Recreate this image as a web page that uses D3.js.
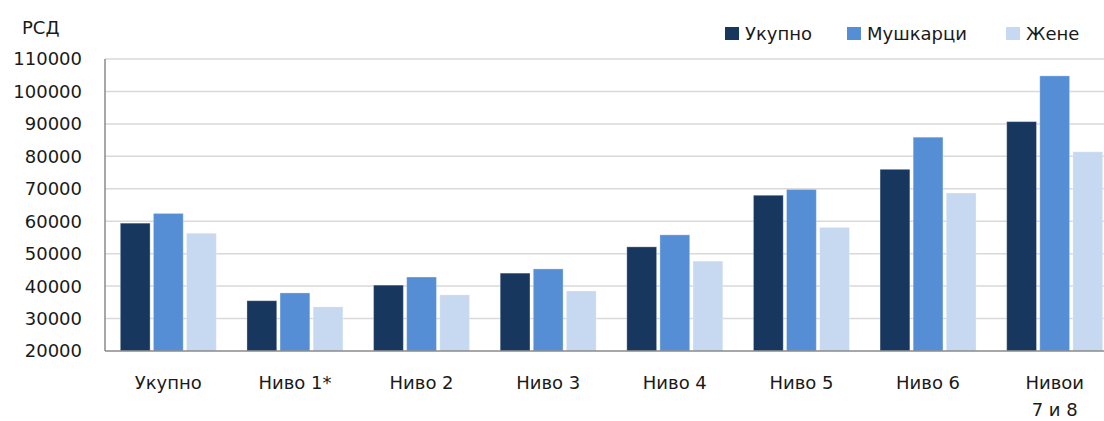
<!DOCTYPE html>
<html>
<head>
<meta charset="utf-8">
<script src="https://cdn.jsdelivr.net/npm/d3@7"></script>
<style>
  body { margin: 0; background: #fff; }
  text { font-family: "DejaVu Sans", sans-serif; fill: #1a1a1a; }
</style>
</head>
<body>
<div class="chart"></div>
<script>
var categories = ["Укупно", "Ниво 1*", "Ниво 2", "Ниво 3", "Ниво 4", "Ниво 5", "Ниво 6", "Нивои|7 и 8"];
var series = ["Укупно", "Мушкарци", "Жене"];
var ukupno   = [59400, 35500, 40300, 44000, 52100, 68000, 76000, 90700];
var muskarci = [62400, 37900, 42800, 45300, 55800, 69800, 85900, 104800];
var zene     = [56300, 33600, 37300, 38500, 47700, 58100, 68700, 81400];
var yTicks = [20000, 30000, 40000, 50000, 60000, 70000, 80000, 90000, 100000, 110000];

var colors = ["#17375e", "#558ed5", "#c6d9f1"];
var values = [ukupno, muskarci, zene];

var width = 1104, height = 421;
var plotLeft = 105, plotRight = 1118, plotTop = 59, plotBottom = 351;

var svg = d3.select(".chart").append("svg")
    .attr("width", width)
    .attr("height", height);

var y = d3.scaleLinear().domain([20000, 110000]).range([plotBottom, plotTop]);

var x0 = d3.scaleBand()
    .domain(categories)
    .range([plotLeft, plotRight])
    .paddingInner(0.242)
    .paddingOuter(0.121);

var x1 = d3.scaleBand()
    .domain(series)
    .range([0, x0.bandwidth()])
    .paddingInner(0.1);

// grid
svg.append("g")
  .selectAll("line")
  .data(yTicks.slice(1))
  .enter().append("line")
    .attr("x1", plotLeft).attr("x2", width)
    .attr("y1", function(d) { return y(d); })
    .attr("y2", function(d) { return y(d); })
    .attr("stroke", "#d9d9d9")
    .attr("stroke-width", 1.5);

// y tick labels
svg.append("g")
  .selectAll("text")
  .data(yTicks)
  .enter().append("text")
    .attr("x", 82)
    .attr("y", function(d) { return y(d); })
    .attr("dy", "0.36em")
    .attr("text-anchor", "end")
    .attr("font-size", 18)
    .text(function(d) { return d; });

svg.append("text")
    .attr("x", 22).attr("y", 28).attr("dy", "0.36em")
    .attr("font-size", 18)
    .text("РСД");

// bars
var groups = svg.append("g")
  .selectAll("g")
  .data(categories)
  .enter().append("g")
    .attr("transform", function(d) { return "translate(" + x0(d) + ",0)"; });

groups.selectAll("rect")
  .data(function(d, i) {
    return series.map(function(s, j) { return { s: s, v: values[j][i], c: colors[j] }; });
  })
  .enter().append("rect")
    .attr("x", function(d) { return x1(d.s); })
    .attr("y", function(d) { return y(d.v); })
    .attr("width", x1.bandwidth())
    .attr("height", function(d) { return plotBottom - y(d.v); })
    .attr("fill", function(d) { return d.c; })
    .attr("stroke", "#ffffff")
    .attr("stroke-opacity", 0.3)
    .attr("stroke-width", 1);

// axes lines
svg.append("line")
    .attr("x1", plotLeft).attr("x2", width)
    .attr("y1", plotBottom).attr("y2", plotBottom)
    .attr("stroke", "#8a8a8a").attr("stroke-width", 1.5);
svg.append("line")
    .attr("x1", plotLeft).attr("x2", plotLeft)
    .attr("y1", plotTop).attr("y2", plotBottom)
    .attr("stroke", "#8a8a8a").attr("stroke-width", 1.5);

// category labels
svg.append("g")
  .selectAll("text")
  .data(categories)
  .enter().append("text")
    .attr("x", function(d) { return x0(d) + x0.bandwidth() / 2; })
    .attr("y", 383)
    .attr("text-anchor", "middle")
    .attr("font-size", 18)
    .each(function(d) {
      var parts = d.split("|");
      var t = d3.select(this);
      parts.forEach(function(p, i) {
        t.append("tspan")
          .attr("x", t.attr("x"))
          .attr("dy", i === 0 ? "0.36em" : "1.45em")
          .text(p);
      });
    });

// legend
var legendX = [725, 847, 1006];
var legend = svg.append("g")
  .selectAll("g")
  .data(series)
  .enter().append("g")
    .attr("transform", function(d, i) { return "translate(" + legendX[i] + ",27)"; });
legend.append("rect")
    .attr("width", 14).attr("height", 13)
    .attr("fill", function(d, i) { return colors[i]; });
legend.append("text")
    .attr("x", 20).attr("y", 6.5).attr("dy", "0.36em")
    .attr("font-size", 18)
    .text(function(d) { return d; });
</script>
</body>
</html>
